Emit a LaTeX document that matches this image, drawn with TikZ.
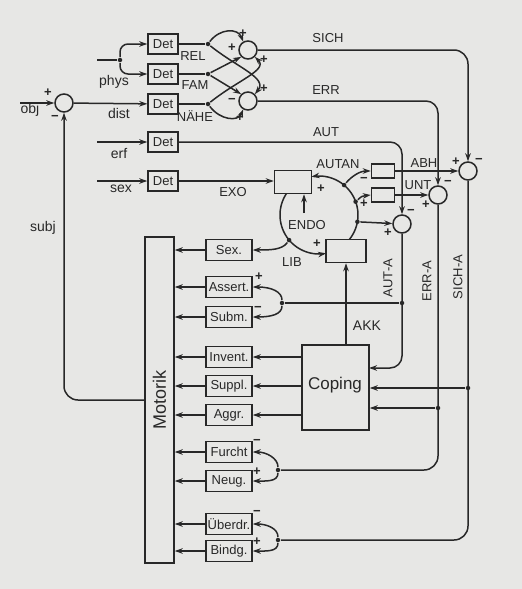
\documentclass[tikz,border=0pt]{standalone}
\usepackage{fontspec}
\setmainfont{Liberation Sans}
\usetikzlibrary{arrows.meta}
\definecolor{paper}{RGB}{231,231,229}
\definecolor{ink}{RGB}{40,40,40}

\begin{document}
\begin{tikzpicture}[x=1pt,y=-1pt,line width=1.5pt,color=ink,
  >={Stealth[length=8pt,width=5.5pt]},
  det/.style={draw,fill=paper,minimum width=30pt,minimum height=20pt,inner sep=1pt,font=\fontsize{13}{14}\selectfont},
  act/.style={draw,fill=paper,minimum width=46pt,minimum height=21pt,inner sep=1pt,font=\fontsize{13}{14}\selectfont},
  sum/.style={draw,fill=paper,circle,minimum size=18pt,inner sep=0pt},
  blank/.style={draw,fill=paper,inner sep=0pt},
  lbl/.style={font=\fontsize{13}{14}\selectfont,inner sep=0pt},
  sgn/.style={font=\fontsize{13}{13}\selectfont\bfseries,inner sep=0pt},
  jn/.style={circle,fill=ink,inner sep=0pt,minimum size=4.5pt}]
\path[use as bounding box,fill=paper] (0,0) rectangle (522,589);

% input side
\node[sum] (cmp) at (64,103) {};
\coordinate (objin) at (20,103);
\draw[->] (objin) -- (cmp);
\node[lbl,font=\fontsize{14}{15}\selectfont] at (30,110) {obj};
\node[sgn] at (48,93) {+};
\node[sgn] at (55,118) {−};

\node[det] (d1) at (163,44) {Det};
\node[det] (d2) at (163,74) {Det};
\node[det] (d3) at (163,104) {Det};
\node[det] (d4) at (163,142) {Det};
\node[det] (d5) at (163,181) {Det};

\coordinate (physin) at (97,60);
\node[jn] (pj) at (120,60) {};
\draw (physin) -- (pj);
\draw[->,rounded corners=8pt] (pj) |- (d1);
\draw[->,rounded corners=8pt] (pj) |- (d2);
\draw[->] (cmp) -- (d3);
\coordinate (erfin) at (97,142);
\draw[->] (erfin) -- (d4);
\coordinate (sexin) at (97,181);
\draw[->] (sexin) -- (d5);
\node[lbl,font=\fontsize{14}{15}\selectfont] at (114,82) {phys};
\node[lbl,font=\fontsize{14}{15}\selectfont] at (119,113) {dist};
\node[lbl,font=\fontsize{14}{15}\selectfont] at (119,154) {erf};
\node[lbl,font=\fontsize{14}{15}\selectfont] at (121,189) {sex};

% crossing network
\node[sum] (s1) at (248,50) {};
\node[sum] (s2) at (248,101) {};
\node[jn] (r1) at (208,44) {};
\node[jn] (r2) at (208,74) {};
\node[jn] (r3) at (208,104) {};
\draw (d1) -- (r1);
\draw (d2) -- (r2);
\draw (d3) -- (r3);
\draw[->] (r1) .. controls (220,28) and (238,28) .. (s1.120);
\draw[->] (r1) .. controls (238,68) and (268,78) .. (s2.45);
\draw[->] (r2) -- (s1.-135);
\draw[->] (r2) -- (s2.135);
\draw[->] (r3) .. controls (238,80) and (268,70) .. (s1.-45);
\draw[->] (r3) .. controls (220,120) and (238,122) .. (s2.-120);
\node[lbl] at (193,56) {REL};
\node[lbl] at (195,85) {FAM};
\node[lbl] at (195,116) {NÄHE};
\node[sgn] at (243,34) {+};
\node[sgn] at (232,48) {+};
\node[sgn] at (264,60) {+};
\node[sgn] at (264,89) {+};
\node[sgn] at (232,101) {−};
\node[sgn] at (240,118) {+};

% comparators on the right
\node[sum] (s4) at (468,171) {};
\node[sum] (s5) at (438,195) {};
\node[sum] (s6) at (402,224) {};
\draw[->,rounded corners=14pt] (s1) -| (s4);
\draw[->,rounded corners=12pt] (s2) -| (s5);
\draw[->,rounded corners=12pt] (d4) -| (s6);
\node[lbl] at (328,38) {SICH};
\node[lbl] at (326,90) {ERR};
\node[lbl] at (326,132) {AUT};

% endo loop
\node[blank,minimum width=37pt,minimum height=23pt] (ub) at (293,182) {};
\node[blank,minimum width=40pt,minimum height=23pt] (lb) at (346,251) {};
\node[blank,minimum width=23pt,minimum height=14pt] (bA) at (383,171) {};
\node[blank,minimum width=23pt,minimum height=14pt] (bU) at (383,195) {};
\draw[->] (d5) -- (d5 -| ub.west);
\node[lbl] at (233,192) {EXO};
\draw[->] (bA) -- (s4);
\draw[->] (bU) -- (s5);
\node[lbl] at (424,163) {ABH};
\node[lbl] at (418,185) {UNT};

\draw[->,domain=146.6:280.3,samples=40,variable=\t]
  plot ({319+39*cos(\t)},{215-39*sin(\t)});
\draw[->,domain=-38.9:101,samples=50,variable=\t]
  plot ({319+39*cos(\t)},{215-39*sin(\t)});
\node[jn] (lj) at (289.1,240.1) {};
\node[jn] (j3) at (357.4,221.8) {};
\node[jn] (j2) at (355.6,201.7) {};
\node[jn] (j1) at (344.1,185.1) {};
\draw[->] (j1) .. controls (352,176) and (360,171) .. (bA.west);
\draw[->] (j2) .. controls (362,196) .. (bU.west);
\draw[->] (j3) -- (s6);
\coordinate (en) at (304,213);
\draw[->] (en) -- (en |- ub.south);
\node[lbl] at (307,225) {ENDO};
\node[lbl] at (338,164) {AUTAN};
\node[lbl] at (292,262) {LIB};
\node[sgn] at (321,189) {+};
\node[sgn] at (317,244) {+};
\node[sgn] at (364,180) {−};
\node[sgn] at (364,204) {+};
\node[sgn] at (388,233) {+};
\node[sgn] at (411,212) {−};
\node[sgn] at (456,162) {+};
\node[sgn] at (479,161) {−};
\node[sgn] at (448,183) {−};
\node[sgn] at (426,205) {+};

% motor side
\node[draw,fill=paper,minimum width=29pt,minimum height=326pt,inner sep=0pt] (mo) at (159.5,400) {};
\node[rotate=90,font=\fontsize{18}{19}\selectfont] at (mo.center) {Motorik};
\foreach \n/\t/\y in {sx/Sex./250,as/Assert./287,sb/Subm./317,iv/Invent./357,
  sp/Suppl./386,ag/Aggr./415,fu/Furcht/452,ne/Neug./481,ud/Überdr./524,bd/Bindg./551}
  \node[act] (\n) at (229,\y) {\t};
\foreach \n in {sx,as,sb,iv,sp,ag,fu,ne,ud,bd}
  \draw[->] (\n.west) -- (\n.west -| mo.east);
\draw[->] (lj) .. controls (282,250) and (270,250) .. (sx.east);

\node[draw,fill=paper,minimum width=67pt,minimum height=85pt,inner sep=0pt] (co) at (335.5,387.5) {};
\node[font=\fontsize{17}{18}\selectfont] at (335,385) {Coping};
\foreach \n in {iv,sp,ag}
  \draw[->] (co.west |- \n) -- (\n.east);
\draw[->] (co.north -| lb) -- (lb.south);
\node[lbl,font=\fontsize{14}{15}\selectfont] at (367,326) {AKK};

% feedback lines
\coordinate (cA) at (369,368);
\node[jn] (jA) at (402,303) {};
\node[jn] (jAS) at (282,303) {};
\draw[->,rounded corners=12pt] (s6) |- (cA);
\draw (jA) -- (jAS);
\draw[->] (jAS) .. controls (282,292) and (272,287) .. (as.east);
\draw[->] (jAS) .. controls (282,314) and (272,317) .. (sb.east);
\node[sgn] at (259,277) {+};
\node[sgn] at (258,309) {−};

\node[jn] (jE) at (438,408) {};
\node[jn] (jF) at (278,470) {};
\draw[rounded corners=14pt] (s5) |- (jF);
\draw[->] (jE) -- (jE -| co.east);
\draw[->] (jF) .. controls (278,458) and (266,452) .. (fu.east);
\draw[->] (jF) .. controls (278,482) and (266,481) .. (ne.east);
\node[sgn] at (257,442) {−};
\node[sgn] at (257,472) {+};

\node[jn] (jS) at (468,388) {};
\node[jn] (jB) at (278,540) {};
\draw[rounded corners=14pt] (s4) |- (jB);
\draw[->] (jS) -- (jS -| co.east);
\draw[->] (jB) .. controls (278,528) and (266,524) .. (ud.east);
\draw[->] (jB) .. controls (278,552) and (266,551) .. (bd.east);
\node[sgn] at (257,513) {−};
\node[sgn] at (257,542) {+};

\node[lbl,rotate=90] at (388,278) {AUT-A};
\node[lbl,rotate=90] at (427,281) {ERR-A};
\node[lbl,rotate=90] at (458,277) {SICH-A};

% subject feedback
\coordinate (sj) at (145,400);
\draw[->,rounded corners=14pt] (sj) -| (cmp);
\node[lbl,font=\fontsize{14}{15}\selectfont] at (43,228) {subj};
\end{tikzpicture}
\end{document}
